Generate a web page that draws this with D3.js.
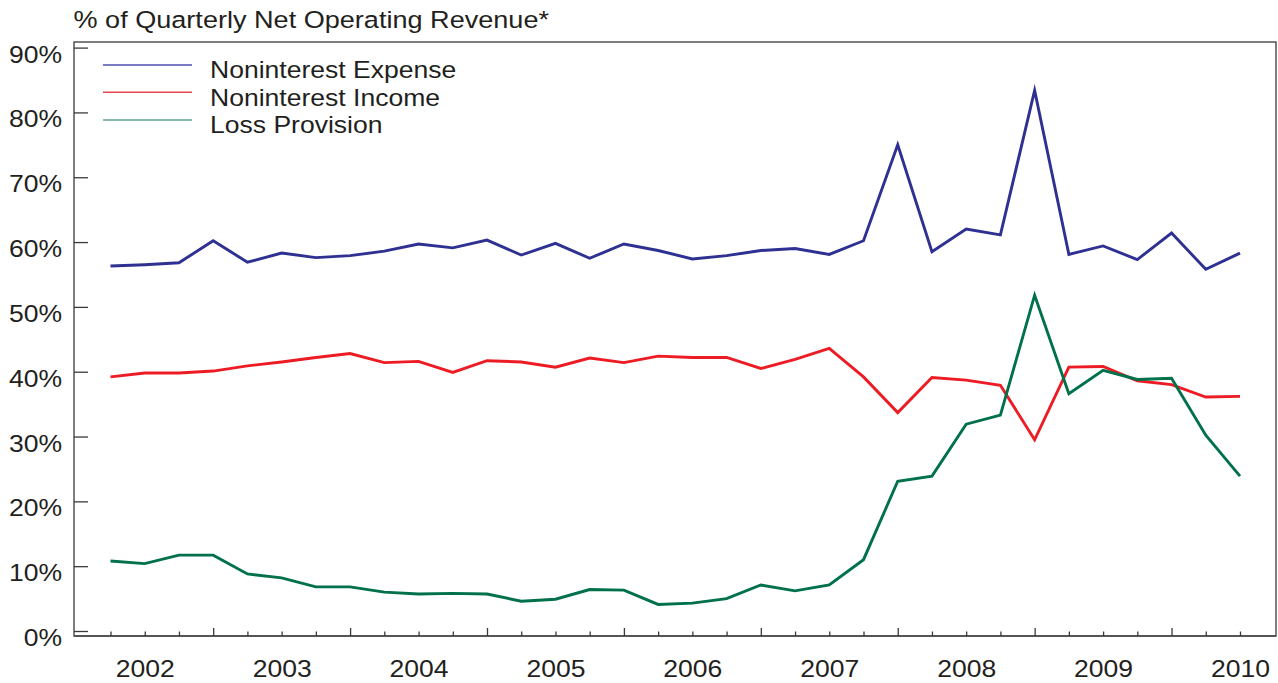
<!DOCTYPE html>
<html><head><meta charset="utf-8">
<script src="https://cdn.jsdelivr.net/npm/d3@7"></script>
<style>
body{margin:0;background:#fff}
text{font-family:"Liberation Sans",Arial,Helvetica,sans-serif;fill:#231f20}
</style>
</head><body>
<svg id="chart" width="1278" height="683"></svg>
<script>
// ---- data ----
const quarters = ["2001Q4",
  "2002Q1","2002Q2","2002Q3","2002Q4","2003Q1","2003Q2","2003Q3","2003Q4",
  "2004Q1","2004Q2","2004Q3","2004Q4","2005Q1","2005Q2","2005Q3","2005Q4",
  "2006Q1","2006Q2","2006Q3","2006Q4","2007Q1","2007Q2","2007Q3","2007Q4",
  "2008Q1","2008Q2","2008Q3","2008Q4","2009Q1","2009Q2","2009Q3","2009Q4",
  "2010Q1"];
const yearLabelQuarters = ["2002Q1","2003Q1","2004Q1","2005Q1","2006Q1","2007Q1","2008Q1","2009Q1","2010Q1"];
const yearLabels = ["2002","2003","2004","2005","2006","2007","2008","2009","2010"];
const majorTickQuarters = ["2002Q3","2003Q3","2004Q3","2005Q3","2006Q3","2007Q3","2008Q3","2009Q3"];
const yTicks = [0,10,20,30,40,50,60,70,80,90];
const seriesNames = ["Noninterest Expense","Noninterest Income","Loss Provision"];
const expense = [56.3,56.5,56.8,60.2,56.9,58.3,57.6,57.9,58.6,59.7,59.1,60.3,58.0,59.8,57.5,59.7,58.7,57.4,57.9,58.7,59.0,58.1,60.2,75.0,58.5,62.0,61.1,83.4,58.1,59.4,57.3,61.4,55.8,58.3];
const income = [39.2,39.8,39.8,40.1,40.9,41.5,42.2,42.8,41.4,41.6,39.9,41.7,41.5,40.7,42.1,41.4,42.4,42.2,42.2,40.5,41.9,43.6,39.2,33.7,39.1,38.7,37.9,29.5,40.7,40.8,38.6,38.0,36.1,36.2];
const provision = [10.8,10.4,11.7,11.7,8.8,8.2,6.8,6.8,6.0,5.7,5.8,5.7,4.6,4.9,6.4,6.3,4.1,4.3,5.0,7.1,6.2,7.1,11.0,23.1,23.9,31.9,33.3,51.8,36.6,40.2,38.8,39.0,30.2,23.9];

// ---- layout / style ----
const colors = ["#2e3192","#ed1c24","#00714a"];
const legendColors = ["#4d51b0","#e8464d","#5fa58a"];
const frame = {left:74, right:1276, top:42, bottom:636};
const svg = d3.select("#chart");

const x = d3.scalePoint().domain(quarters).range([110.5, 1240]);
const y = d3.scaleLinear().domain([0,90]).range([631, 47.6]);

// frame
svg.append("rect")
  .attr("x", frame.left).attr("y", frame.top)
  .attr("width", frame.right-frame.left).attr("height", frame.bottom-frame.top)
  .attr("fill","none").attr("stroke","#3a3a3a").attr("stroke-width",1.3);
svg.append("line")
  .attr("x1", frame.left).attr("x2", frame.right)
  .attr("y1", frame.bottom).attr("y2", frame.bottom)
  .attr("stroke","#555").attr("stroke-width",2);

// y axis
const yAxis = d3.axisLeft(y).tickValues(yTicks).tickFormat(d => d + "%")
  .tickSize(-14).tickPadding(12);
const gy = svg.append("g").attr("transform",`translate(${frame.left},0)`).call(yAxis);
gy.select(".domain").remove();
gy.selectAll(".tick line").attr("stroke","#3a3a3a").attr("stroke-width",1.3);
gy.selectAll(".tick text").attr("dy","14.5px").style("font-size","24px").attr("fill","#231f20");

// x axis
const xAxis = d3.axisBottom(x).tickValues(quarters)
  .tickFormat(q => { const i = yearLabelQuarters.indexOf(q); return i >= 0 ? yearLabels[i] : ""; })
  .tickSize(-4.5).tickPadding(0);
const gx = svg.append("g").attr("transform",`translate(0,${frame.bottom})`).call(xAxis);
gx.select(".domain").remove();
gx.selectAll(".tick line")
  .attr("stroke","#3a3a3a").attr("stroke-width",1.3)
  .attr("y2", q => majorTickQuarters.includes(q) ? -8 : -4.5);
gx.selectAll(".tick text").attr("y",41).attr("dy",0).style("font-size","24px").attr("fill","#231f20");

// lines
const line = d3.line().x((d,i) => x(quarters[i])).y(d => y(d));
[expense, income, provision].forEach((s, k) => {
  svg.append("path").datum(s)
    .attr("d", line)
    .attr("fill","none")
    .attr("stroke", colors[k])
    .attr("stroke-width", 2.9)
    .attr("stroke-linejoin","miter")
    .attr("stroke-miterlimit", 10);
});

// legend
const legendY = [65, 92.3, 120];
const legendBase = [78, 106, 133];
seriesNames.forEach((n, k) => {
  svg.append("line").attr("x1",103).attr("x2",192)
    .attr("y1",legendY[k]).attr("y2",legendY[k])
    .attr("stroke",legendColors[k]).attr("stroke-width",1.5);
  svg.append("text").attr("x",210).attr("y",legendBase[k])
    .style("font-size","24px").text(n);
});

// title
svg.append("text").attr("x",73.5).attr("y",28)
  .style("font-size","24.5px").text("% of Quarterly Net Operating Revenue*");

// horizontal stretch of text to match reference proportions
svg.selectAll("text").each(function(){
  const w = this.getComputedTextLength();
  if (w > 0) {
    this.setAttribute("textLength", (w*1.105).toFixed(1));
    this.setAttribute("lengthAdjust","spacingAndGlyphs");
  }
});
</script>
</body></html>
